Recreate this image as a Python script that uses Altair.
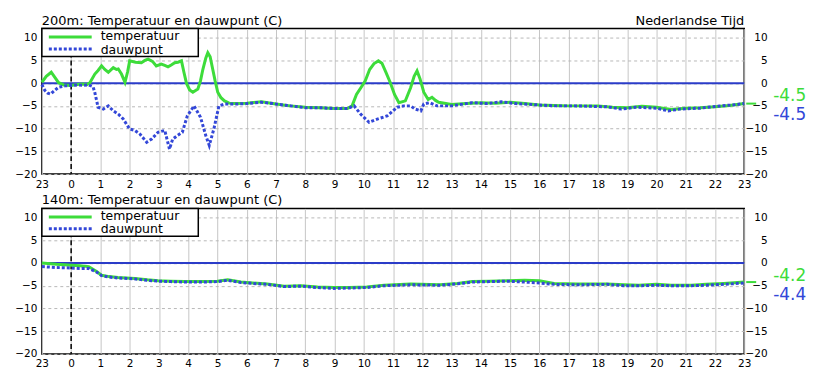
import altair as alt
import pandas as pd

# ---------------- data (hours relative to midnight; -1 = 23h previous day) ----------------
top_temp_hours = [-1.0, -0.85, -0.68, -0.55, -0.43, -0.25, 0.0, 0.2, 0.4, 0.55, 0.64, 0.81, 0.92, 1.04, 1.15,
                  1.27, 1.44, 1.55, 1.61, 1.72, 1.84, 1.93, 2.0, 2.2, 2.4, 2.52, 2.63, 2.78, 2.91, 3.08, 3.2,
                  3.31, 3.42, 3.54, 3.65, 3.77, 3.85, 3.94, 4.05, 4.16, 4.33, 4.42, 4.5, 4.6, 4.67, 4.75,
                  4.84, 4.92, 5.01, 5.12, 5.24, 5.4, 5.6, 6.0, 6.5, 7.0, 7.5, 8.0, 8.5, 9.0, 9.44, 9.6, 9.75,
                  9.9, 10.05, 10.2, 10.35, 10.5, 10.62, 10.75, 10.9, 11.05, 11.2, 11.42, 11.6, 11.72, 11.82,
                  11.92, 12.05, 12.2, 12.33, 12.45, 12.56, 13.0, 13.5, 14.0, 14.5, 15.0, 15.5, 16.0, 16.5,
                  17.0, 17.5, 18.0, 18.5, 19.0, 19.5, 20.0, 20.5, 21.0, 21.5, 22.0, 22.5, 23.0]
top_temp_values = [0.2, 1.5, 2.4, 1.2, 0.1, -0.4, -0.5, -0.3, -0.2, -0.3, 0.1, 2.0, 2.8, 3.8, 3.0,
                   2.4, 3.4, 3.0, 3.1, 2.0, 0.2, 2.5, 4.9, 4.6, 4.5, 5.0, 5.3, 4.8, 3.8, 4.2, 3.9,
                   3.6, 4.0, 4.5, 4.6, 4.9, 2.5, 0.0, -1.5, -2.0, -1.3, 0.5, 3.0, 5.5, 6.7, 5.8,
                   3.0, 0.5, -2.0, -3.2, -3.9, -4.4, -4.5, -4.4, -4.1, -4.6, -5.0, -5.3, -5.4, -5.6, -5.6, -5.0, -2.5,
                   -1.0, 0.5, 3.0, 4.3, 4.9, 4.4, 2.5, 0.2, -2.5, -4.3, -3.9, -1.0, 1.5, 2.7,
                   1.0, -2.0, -3.6, -3.1, -3.8, -4.2, -4.7, -4.5, -4.3, -4.4, -4.2, -4.5, -4.8, -4.9,
                   -5.0, -5.0, -5.0, -5.3, -5.4, -5.1, -5.3, -5.8, -5.5, -5.4, -5.2, -4.9, -4.5]

top_dew_hours = [-1.0, -0.9, -0.8, -0.7, -0.6, -0.43, -0.2, 0.0, 0.2, 0.4, 0.6, 0.75, 0.81, 0.87, 0.92,
                 1.1, 1.27, 1.44, 1.61, 1.78, 2.0, 2.18, 2.35, 2.58, 2.75, 2.97, 3.2, 3.36, 3.47, 3.64,
                 3.8, 3.97, 4.2, 4.42, 4.6, 4.72, 4.88, 5.05, 5.24, 5.6, 6.0, 6.5, 6.8, 7.0, 7.5, 8.0,
                 8.5, 9.0, 9.44, 9.67, 9.89, 10.18, 10.46, 10.8, 11.14, 11.37, 11.6, 11.75, 11.95, 12.05,
                 12.25, 12.5, 13.0, 13.7, 14.2, 14.7, 15.2, 16.0, 16.5, 17.2, 17.8, 18.3, 18.8, 19.3,
                 20.0, 20.4, 20.8, 21.5, 22.2, 22.6, 23.0]
top_dew_values = [-0.3, -1.6, -2.2, -2.4, -1.8, -0.9, -0.6, -0.5, -0.4, -0.5, -0.4, -0.8, -2.1, -3.8, -5.3,
                  -5.7, -5.0, -6.1, -6.8, -7.9, -10.1, -10.4, -11.2, -13.0, -12.3, -10.8, -10.4, -14.5, -12.3, -11.5,
                  -10.8, -7.2, -5.0, -7.5, -11.5, -13.7, -10.0, -5.0, -4.6, -4.6, -4.5, -4.2, -4.4, -4.6, -5.0, -5.4,
                  -5.4, -5.6, -5.6, -5.0, -6.8, -8.6, -7.9, -7.2, -5.3, -5.0, -5.0, -5.7, -6.1, -4.6,
                  -4.3, -5.0, -5.0, -4.3, -4.5, -4.1, -4.5, -4.8, -5.0, -5.0, -5.1, -5.2, -5.7, -5.3,
                  -5.5, -6.1, -5.7, -5.5, -5.0, -4.8, -4.5]

bottom_temp_hours = [-1.0, -0.5, 0.0, 0.3, 0.6, 0.87, 1.04, 1.3, 1.6, 2.18, 2.6, 2.97, 3.4, 3.88, 4.4, 5.0,
                     5.35, 5.8, 6.2, 6.7, 7.28, 7.85, 8.42, 8.98, 9.5, 10.1, 10.7, 11.6, 12.6, 13.2, 13.7,
                     14.3, 14.9, 15.5, 16.0, 16.5, 17.3, 18.3, 18.9, 19.4, 20.0, 20.5, 21.2, 21.7, 22.3, 23.0]
bottom_temp_values = [0.0, -0.3, -0.5, -0.6, -0.8, -1.9, -2.7, -3.0, -3.2, -3.4, -3.7, -3.9, -4.0, -4.1, -4.1, -4.0,
                      -3.7, -4.2, -4.4, -4.6, -5.1, -5.0, -5.3, -5.4, -5.4, -5.3, -4.9, -4.6, -4.8, -4.5, -4.1,
                      -4.0, -3.9, -3.8, -3.9, -4.5, -4.6, -4.6, -4.8, -4.9, -4.7, -4.9, -4.9, -4.7, -4.5, -4.2]

bottom_dew_hours = bottom_temp_hours
bottom_dew_values = [-0.8, -1.0, -1.1, -1.2, -1.2, -2.0, -2.8, -3.1, -3.3, -3.5, -3.8, -4.0, -4.1, -4.2, -4.2, -4.1,
                     -3.8, -4.3, -4.5, -4.7, -5.2, -5.1, -5.4, -5.6, -5.5, -5.4, -5.0, -4.8, -4.9, -4.6, -4.2,
                     -4.1, -4.0, -4.2, -4.4, -4.7, -4.8, -4.7, -5.0, -5.0, -4.9, -5.0, -5.0, -4.9, -4.7, -4.4]

hour_ticks = list(range(-1, 24))
value_ticks = [-20, -15, -10, -5, 0, 5, 10]

panel_titles = ["200m: Temperatuur en dauwpunt (C)", "140m: Temperatuur en dauwpunt (C)"]
time_label = "Nederlandse Tijd"
legend_labels = ["temperatuur", "dauwpunt"]
last_labels = [("-4.5", "-4.5"), ("-4.2", "-4.4")]

# ---------------- styling ----------------
GREEN = "#3ddc3a"
BLUE = "#3347d8"
ZERO = "#2b3cc8"
FONT = "DejaVu Sans"
W, H = 705, 146
XS = alt.Scale(domain=[-1, 23], nice=False, zero=False)
YS = alt.Scale(domain=[-20, 12], nice=False, zero=False)

one = pd.DataFrame({"a": [0]})


def panel(title, th, tv, dh, dv, labels, show_time):
    temp = pd.DataFrame({"h": th, "v": tv})
    dew = pd.DataFrame({"h": dh, "v": dv})

    xaxis = alt.Axis(values=hour_ticks, labelExpr="datum.value < 0 ? '23' : datum.value",
                     grid=True, gridColor="#c6c6c6", gridWidth=1, ticks=False, domain=False,
                     labelPadding=5, title=None, labelFlush=False, labelOverlap=False)
    yleft = alt.Axis(values=value_ticks, orient="left", grid=True, gridColor="#b8b8b8",
                     gridDash=[3, 3], ticks=False, domain=False, labelPadding=5, title=None)
    yright = alt.Axis(values=value_ticks, orient="right", grid=False, ticks=False, domain=False,
                      labelPadding=23, labelAlign="right", title=None)

    zero = alt.Chart(pd.DataFrame({"v": [0]})).mark_rule(color=ZERO, strokeWidth=2).encode(
        y=alt.Y("v:Q", scale=YS, axis=None))
    midnight = alt.Chart(pd.DataFrame({"h": [0]})).mark_rule(
        color="black", strokeWidth=1.5, strokeDash=[5, 3]).encode(
        x=alt.X("h:Q", scale=XS, axis=xaxis))

    tline = alt.Chart(temp).mark_line(color=GREEN, strokeWidth=3).encode(
        x=alt.X("h:Q", scale=XS, axis=xaxis),
        y=alt.Y("v:Q", scale=YS, axis=yleft))
    dline = alt.Chart(dew).mark_line(color=BLUE, strokeWidth=3, strokeDash=[3, 2]).encode(
        x=alt.X("h:Q", scale=XS, axis=xaxis),
        y=alt.Y("v:Q", scale=YS, axis=yright))

    # legend box
    box = alt.Chart(one).mark_rect(fill="white", stroke="black", strokeWidth=1.5).encode(
        x=alt.value(0), x2=alt.value(157), y=alt.value(0), y2=alt.value(28))
    s1 = alt.Chart(one).mark_rule(color=GREEN, strokeWidth=3).encode(
        x=alt.value(7), x2=alt.value(50), y=alt.value(8.5))
    s2 = alt.Chart(one).mark_rule(color=BLUE, strokeWidth=3, strokeDash=[3, 2]).encode(
        x=alt.value(7), x2=alt.value(50), y=alt.value(20.5))
    t1 = alt.Chart(one).mark_text(text=legend_labels[0], align="left", baseline="middle",
                                  font=FONT, fontSize=12.5, color="black").encode(
        x=alt.value(59), y=alt.value(7.5))
    t2 = alt.Chart(one).mark_text(text=legend_labels[1], align="left", baseline="middle",
                                  font=FONT, fontSize=12.5, color="black").encode(
        x=alt.value(59), y=alt.value(21))

    # last values on the right
    lt = alt.Chart(one).mark_text(text=labels[0], align="left", baseline="middle",
                                  font=FONT, fontSize=17, color=GREEN).encode(
        x=alt.value(734), y=alt.value(68))
    ld = alt.Chart(one).mark_text(text=labels[1], align="left", baseline="middle",
                                  font=FONT, fontSize=17, color=BLUE).encode(
        x=alt.value(734), y=alt.value(87))
    dash = alt.Chart(pd.DataFrame({"v": [tv[-1]]})).mark_rule(color=GREEN, strokeWidth=2).encode(
        x=alt.value(W + 2), x2=alt.value(W + 12), y=alt.Y("v:Q", scale=YS, axis=None))

    ttl = alt.Chart(one).mark_text(text=title, align="left", baseline="alphabetic",
                                   font=FONT, fontSize=13, color="black").encode(
        x=alt.value(0), y=alt.value(-4))
    layers = [zero, midnight, tline, dline, box, s1, s2, t1, t2, dash, lt, ld, ttl]
    if show_time:
        tt = alt.Chart(one).mark_text(text=time_label, align="right", baseline="alphabetic",
                                      font=FONT, fontSize=13, color="black").encode(
            x=alt.value(W), y=alt.value(-4))
        anchor = alt.Chart(one).mark_point(opacity=0, size=1).encode(
            x=alt.value(-32), y=alt.value(-18))
        layers += [tt, anchor]
    return alt.layer(*layers).resolve_axis(y="independent").properties(width=W, height=H)


top = panel(panel_titles[0], top_temp_hours, top_temp_values, top_dew_hours, top_dew_values,
            last_labels[0], True)
bottom = panel(panel_titles[1], bottom_temp_hours, bottom_temp_values, bottom_dew_hours,
               bottom_dew_values, last_labels[1], False)

chart = alt.vconcat(top, bottom, spacing=34.5, bounds="flush").properties(padding=0).configure_view(
    stroke="black", strokeWidth=1.5
).configure_axis(
    labelFont=FONT, labelFontSize=10.5, labelColor="black"
)

chart.save("out.html", embed_options={"renderer": "svg", "actions": False})
